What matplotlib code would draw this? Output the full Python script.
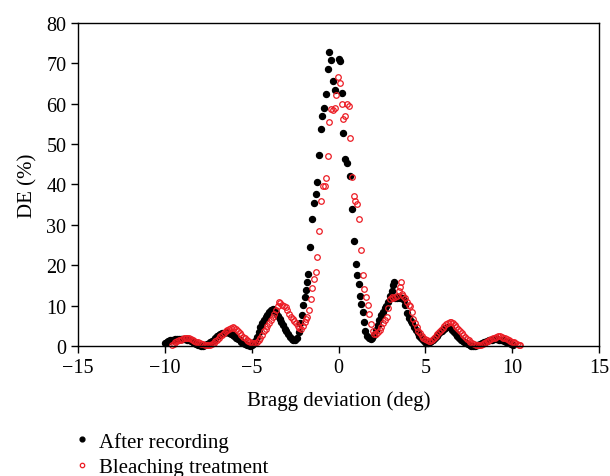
import matplotlib.pyplot as plt

plt.rcParams['font.family'] = ['Liberation Serif', 'DejaVu Serif']

# After recording (black dots)
rec_x = [-10.0, -9.9, -9.8, -9.7, -9.6, -9.5, -9.4, -9.3, -9.2, -9.1,
         -9.0, -8.9, -8.8, -8.7, -8.6, -8.5, -8.4, -8.3, -8.2, -8.1,
         -8.0, -7.9, -7.8, -7.7, -7.6, -7.5, -7.4, -7.3, -7.2, -7.1,
         -7.0, -6.9, -6.8, -6.7, -6.6, -6.5, -6.4, -6.3, -6.2, -6.1,
         -6.0, -5.9, -5.8, -5.7, -5.6, -5.5, -5.4, -5.3, -5.2, -5.1,
         -5.0, -4.9, -4.8, -4.7, -4.6, -4.5, -4.4, -4.3, -4.2, -4.1,
         -4.0, -3.9, -3.8, -3.7, -3.6, -3.5, -3.4, -3.3, -3.2, -3.1,
         -3.0, -2.9, -2.8, -2.7, -2.6, -2.5, -2.4, -2.3, -2.2, -2.1,
         -2.03, -1.93, -1.89, -1.83, -1.74, -1.62, -1.53, -1.43, -1.31, -1.22,
         -1.12, -1.02, -0.93, -0.83, -0.72, -0.62, -0.53, -0.41, -0.30, -0.22,
         0.01, 0.10, 0.20, 0.28, 0.39, 0.49, 0.68, 0.78, 0.89, 0.99,
         1.08, 1.16, 1.25, 1.32, 1.40, 1.47, 1.55, 1.65, 1.75, 1.85,
         1.95, 2.05, 2.15, 2.25, 2.35, 2.45, 2.55, 2.65, 2.75, 2.85,
         2.95, 3.05, 3.12, 3.18, 3.25, 3.35, 3.45, 3.55, 3.65, 3.75,
         3.85, 3.95, 4.05, 4.15, 4.25, 4.35, 4.45, 4.55, 4.65, 4.75,
         4.85, 4.95, 5.05, 5.15, 5.25, 5.35, 5.45, 5.55, 5.65, 5.75,
         5.85, 5.95, 6.05, 6.15, 6.25, 6.35, 6.45, 6.55, 6.65, 6.75,
         6.85, 6.95, 7.05, 7.15, 7.25, 7.35, 7.45, 7.55, 7.65, 7.75,
         7.85, 7.95, 8.05, 8.15, 8.25, 8.35, 8.45, 8.55, 8.65, 8.75,
         8.85, 8.95, 9.05, 9.15, 9.25, 9.35, 9.45, 9.55, 9.65, 9.75,
         9.85, 9.95, 10.05]
rec_de = [0.8, 1.0, 1.2, 1.4, 1.5, 1.6, 1.7, 1.7, 1.8, 1.8,
          1.8, 1.8, 1.7, 1.6, 1.4, 1.2, 1.0, 0.8, 0.5, 0.3,
          0.2, 0.1, 0.1, 0.2, 0.4, 0.6, 0.9, 1.2, 1.6, 2.0,
          2.4, 2.8, 3.0, 3.2, 3.3, 3.4, 3.4, 3.2, 3.0, 2.7,
          2.4, 2.0, 1.7, 1.4, 1.1, 0.8, 0.5, 0.3, 0.2, 0.1,
          0.2, 0.6, 1.2, 2.2, 3.4, 4.6, 5.6, 6.4, 7.1, 7.8,
          8.5, 9.0, 9.1, 8.8, 8.2, 7.5, 6.7, 5.9, 5.1, 4.3,
          3.6, 2.9, 2.3, 1.8, 1.6, 1.5, 2.0, 3.4, 5.6, 7.6,
          10.2, 12.1, 13.9, 15.8, 17.8, 24.5, 31.5, 35.5, 37.6, 40.6,
          47.4, 53.7, 57.0, 58.9, 62.3, 68.6, 72.9, 70.7, 65.6, 63.3,
          71.0, 70.5, 62.7, 52.8, 46.3, 45.2, 42.2, 33.9, 25.9, 20.3,
          17.5, 15.4, 12.4, 10.5, 8.5, 5.9, 3.8, 2.5, 2.0, 1.8,
          2.0, 2.8, 4.0, 5.2, 6.4, 7.6, 8.5, 9.3, 10.0, 11.0,
          12.3, 13.5, 15.2, 15.8, 12.0, 12.0, 12.2, 12.0, 11.8, 11.4,
          10.2, 8.2, 7.0, 6.2, 5.6, 4.8, 4.0, 3.3, 2.6, 2.0,
          1.5, 1.0, 0.7, 0.7, 0.9, 1.2, 1.6, 2.1, 2.6, 3.0,
          3.4, 3.8, 4.1, 4.4, 4.6, 4.6, 4.4, 4.0, 3.5, 3.0,
          2.5, 2.0, 1.6, 1.3, 1.0, 0.7, 0.4, 0.2, 0.1, 0.1,
          0.1, 0.2, 0.3, 0.5, 0.7, 0.9, 1.1, 1.3, 1.4, 1.5,
          1.6, 1.7, 1.7, 1.7, 1.6, 1.5, 1.4, 1.2, 1.1, 0.9,
          0.7, 0.5, 0.3]

# Bleaching treatment (red open circles)
bl_x = [-9.6, -9.5, -9.4, -9.3, -9.2, -9.1, -9.0, -8.9, -8.8, -8.7,
        -8.6, -8.5, -8.4, -8.3, -8.2, -8.1, -8.0, -7.9, -7.8, -7.7,
        -7.6, -7.5, -7.4, -7.3, -7.2, -7.1, -7.0, -6.9, -6.8, -6.7,
        -6.6, -6.5, -6.4, -6.3, -6.2, -6.1, -6.0, -5.9, -5.8, -5.7,
        -5.6, -5.5, -5.4, -5.3, -5.2, -5.1, -5.0, -4.9, -4.8, -4.7,
        -4.6, -4.5, -4.4, -4.3, -4.2, -4.1, -4.0, -3.9, -3.8, -3.7,
        -3.6, -3.5, -3.45, -3.35, -3.25, -3.15, -3.05, -2.95, -2.85, -2.75,
        -2.65, -2.55, -2.45, -2.35, -2.25, -2.15, -2.05, -1.95, -1.89, -1.80,
        -1.70, -1.60, -1.51, -1.41, -1.31, -1.22, -1.12, -1.01, -0.91, -0.79,
        -0.72, -0.62, -0.53, -0.41, -0.32, -0.20, -0.13, -0.01, 0.07, 0.18,
        0.28, 0.39, 0.49, 0.60, 0.68, 0.80, 0.87, 0.97, 1.05, 1.18,
        1.28, 1.39, 1.49, 1.58, 1.68, 1.77, 1.87, 1.97, 2.07, 2.17,
        2.27, 2.37, 2.47, 2.57, 2.67, 2.77, 2.87, 2.96, 3.06, 3.16,
        3.26, 3.36, 3.46, 3.54, 3.58, 3.66, 3.73, 3.83, 3.93, 4.03,
        4.12, 4.22, 4.31, 4.41, 4.50, 4.60, 4.69, 4.79, 4.89, 4.99,
        5.09, 5.19, 5.29, 5.39, 5.49, 5.59, 5.69, 5.79, 5.89, 5.99,
        6.09, 6.19, 6.29, 6.39, 6.49, 6.59, 6.69, 6.79, 6.89, 6.99,
        7.09, 7.19, 7.29, 7.39, 7.49, 7.59, 7.69, 7.79, 7.89, 7.99,
        8.09, 8.19, 8.29, 8.39, 8.49, 8.59, 8.69, 8.79, 8.89, 8.99,
        9.09, 9.19, 9.29, 9.39, 9.49, 9.59, 9.69, 9.79, 9.89, 9.99,
        10.09, 10.19, 10.29, 10.39, 10.45]
bl_de = [0.3, 0.6, 0.9, 1.2, 1.4, 1.6, 1.8, 1.9, 2.0, 2.0,
         1.9, 1.7, 1.5, 1.3, 1.1, 0.9, 0.7, 0.5, 0.4, 0.3,
         0.2, 0.2, 0.3, 0.5, 0.8, 1.2, 1.6, 2.0, 2.4, 2.8,
         3.2, 3.6, 3.9, 4.2, 4.4, 4.6, 4.5, 4.2, 3.8, 3.3,
         2.8, 2.3, 1.9, 1.6, 1.3, 1.0, 0.8, 0.7, 0.7, 1.0,
         1.5, 2.1, 2.8, 3.6, 4.3, 5.0, 5.7, 6.4, 7.2, 8.0,
         9.0, 10.0, 10.8, 10.6, 10.2, 10.0, 9.6, 9.0, 8.0, 7.3,
         6.8, 6.3, 5.7, 5.0, 4.4, 4.3, 5.0, 6.0, 6.6, 7.3,
         8.9, 11.6, 14.4, 16.6, 18.2, 22.0, 28.4, 36.0, 39.5, 39.5,
         41.6, 47.1, 55.5, 58.7, 58.5, 58.9, 62.2, 66.5, 65.2, 59.8,
         56.2, 56.9, 59.8, 59.3, 51.6, 41.8, 37.1, 36.0, 35.2, 31.5,
         23.8, 17.7, 14.1, 12.1, 10.2, 7.9, 5.4, 3.8, 3.0, 3.0,
         3.4, 4.0, 4.8, 5.6, 6.4, 7.3, 9.5, 11.6, 12.2, 12.0,
         12.2, 12.5, 13.5, 14.6, 15.8, 13.0, 12.5, 11.8, 11.0, 10.2,
         9.8, 8.5, 6.8, 5.6, 4.6, 3.8, 3.2, 2.6, 2.1, 1.7,
         1.4, 1.3, 1.3, 1.6, 2.0, 2.5, 3.0, 3.5, 4.0, 4.5,
         5.0, 5.5, 5.8, 6.0, 5.9, 5.6, 5.2, 4.8, 4.3, 3.8,
         3.3, 2.8, 2.3, 1.8, 1.4, 1.0, 0.7, 0.4, 0.3, 0.2,
         0.2, 0.3, 0.5, 0.7, 0.9, 1.2, 1.4, 1.7, 1.9, 2.1,
         2.3, 2.4, 2.4, 2.3, 2.1, 1.9, 1.7, 1.5, 1.3, 1.1,
         0.9, 0.7, 0.5, 0.3, 0.2]

xticks = [-15, -10, -5, 0, 5, 10, 15]
yticks = [0, 10, 20, 30, 40, 50, 60, 70, 80]

fig = plt.figure(figsize=(6.1, 4.77), dpi=100)
ax = fig.add_axes([0.128, 0.2725, 0.854, 0.6775])

ax.plot(rec_x, rec_de, 'o', color='black', markersize=4.3, label='After recording', clip_on=False)
ax.plot(bl_x, bl_de, 'o', markerfacecolor='none', markeredgecolor='#ec1c24',
        markersize=4, markeredgewidth=0.9, label='Bleaching treatment', clip_on=False)

ax.set_xlim(-15, 15)
ax.set_ylim(0, 80)
ax.set_xticks(xticks)
ax.set_yticks(yticks)
ax.set_xticklabels(['\u221215', '\u221210', '\u22125', '0', '5', '10', '15'])
ax.tick_params(direction='out', length=5, width=1, labelsize=14.5, colors='black')
ax.set_xlabel('Bragg deviation (deg)', fontsize=15, labelpad=10)
ax.set_ylabel('DE (%)', fontsize=15, labelpad=6)
for s in ax.spines.values():
    s.set_linewidth(1)

fig.legend(loc='upper left', bbox_to_anchor=(0.126, 0.093), frameon=False,
           fontsize=15, handlelength=0.5, handletextpad=0.55, labelspacing=0.3,
           markerscale=0.8, borderpad=0, borderaxespad=0)

fig.savefig('out.png', dpi=100)
